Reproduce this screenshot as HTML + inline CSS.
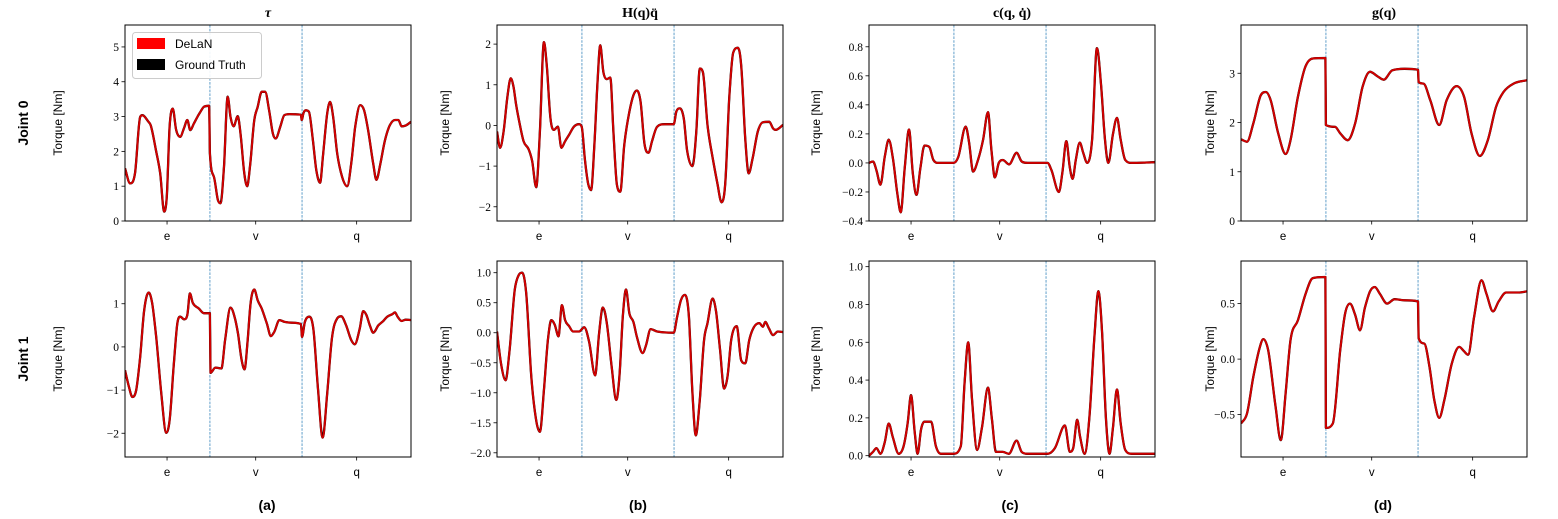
<!DOCTYPE html>
<html><head><meta charset="utf-8"><style>
body{margin:0;background:#fff;}
svg{display:block;}
text{font-family:"Liberation Serif",serif;}
.sans{font-family:"Liberation Sans","DejaVu Sans",sans-serif;}
</style></head><body>
<svg id="fig" width="1558" height="519" viewBox="0 0 1558 519" xmlns="http://www.w3.org/2000/svg"></svg>
<script>
// ---- data (x as fraction of trajectory, y in Nm) ----
const xTickLabels = ["e","v","q"];
const xTickPos = [0.147, 0.457, 0.81];
const dividers = [0.297, 0.619];

const aTopX=[0,.018,.035,.053,.061,.082,.09,.108,.123,.137,.146,.156,.167,.179,.193,.206,.218,.228,.241,.253,.264,.276,.294,.297,.311,.325,.334,.346,.359,.369,.380,.394,.404,.417,.427,.438,.452,.464,.478,.490,.504,.517,.527,.543,.557,.575,.610,.615,.618,.624,.632,.643,.657,.669,.682,.692,.707,.717,.727,.742,.759,.777,.791,.805,.822,.836,.850,.868,.879,.893,.909,.926,.944,.956,.967,.981,1];
const aTopY=[1.51,1.08,1.37,2.99,3.04,2.85,2.75,2.04,1.37,0.27,0.70,2.71,3.23,2.61,2.42,2.66,2.90,2.61,2.80,2.99,3.14,3.28,3.31,1.94,1.27,0.60,0.51,1.56,3.57,2.99,2.72,3.01,2.51,1.37,1.00,1.65,2.90,3.28,3.71,3.71,3.18,2.51,2.37,2.71,3.04,3.07,3.06,3.05,2.90,3.10,3.18,3.14,2.32,1.46,1.10,1.85,3.09,3.42,3.04,1.94,1.27,1.00,1.65,2.71,3.33,3.18,2.61,1.65,1.18,1.65,2.32,2.75,2.90,2.90,2.72,2.74,2.85];

const bTopX=[0,.011,.023,.037,.048,.058,.067,.079,.093,.111,.123,.137,.150,.164,.174,.187,.199,.213,.225,.238,.252,.269,.287,.296,.308,.319,.329,.340,.352,.361,.372,.384,.396,.407,.419,.431,.445,.463,.477,.489,.502,.516,.530,.542,.560,.586,.618,.627,.639,.653,.665,.683,.697,.709,.720,.736,.754,.771,.785,.798,.812,.826,.842,.854,.868,.880,.894,.912,.930,.952,.965,.974,1];
const bTopY=[-0.15,-0.55,-0.15,0.74,1.16,0.94,0.50,0.05,-0.39,-0.59,-0.88,-1.52,-0.15,2.05,1.47,0.17,-0.11,-0.03,-0.55,-0.39,-0.23,-0.03,0.03,-0.03,-0.88,-1.44,-1.59,-0.55,1.14,1.97,1.31,1.14,1.18,-0.15,-1.44,-1.63,-0.47,0.34,0.74,0.86,0.58,-0.47,-0.67,-0.39,-0.03,0.03,0.03,0.34,0.42,0.17,-0.63,-1.00,-0.15,1.40,1.31,0.01,-0.79,-1.44,-1.89,-1.44,0.66,1.79,1.91,1.47,-0.31,-1.18,-0.80,-0.15,0.08,0.09,-0.07,-0.11,0.01];

const cTopX=[0,.014,.026,.040,.055,.069,.083,.099,.111,.125,.140,.153,.166,.180,.194,.211,.225,.243,.295,.312,.338,.350,.364,.381,.399,.416,.428,.440,.454,.468,.490,.516,.534,.555,.624,.638,.664,.676,.690,.702,.712,.723,.737,.749,.763,.780,.797,.811,.825,.837,.853,.867,.880,.896,.919,1];
const cTopY=[0,0.01,-0.05,-0.15,0.04,0.16,0.04,-0.21,-0.34,-0.03,0.23,-0.07,-0.22,-0.03,0.12,0.11,0.02,0,0,0.04,0.25,0.14,-0.06,0.02,0.16,0.35,0.09,-0.10,0,0.02,-0.01,0.07,0.01,0,0,-0.05,-0.20,-0.07,0.15,-0.03,-0.11,0.02,0.14,0.07,0,0.16,0.79,0.55,0.16,0,0.20,0.31,0.16,0.02,0,0.005];

const dTopX=[0,.021,.043,.069,.087,.104,.130,.156,.173,.199,.225,.251,.295,.297,.329,.347,.373,.399,.425,.451,.477,.499,.529,.572,.619,.621,.638,.662,.693,.719,.754,.780,.806,.835,.863,.892,.918,.953,1];
const dTopY=[1.66,1.61,1.98,2.55,2.62,2.45,1.78,1.36,1.64,2.52,3.13,3.30,3.31,1.95,1.91,1.78,1.64,1.98,2.72,3.03,2.94,2.87,3.06,3.09,3.07,2.82,2.79,2.45,1.95,2.45,2.74,2.52,1.78,1.32,1.64,2.32,2.62,2.79,2.86];

const aBotX=[0,.014,.026,.039,.053,.067,.083,.095,.109,.127,.144,.156,.170,.183,.193,.207,.218,.227,.237,.258,.276,.297,.299,.316,.337,.350,.369,.383,.395,.408,.418,.429,.439,.452,.464,.478,.496,.510,.522,.540,.558,.584,.615,.619,.629,.645,.659,.675,.691,.707,.724,.742,.756,.773,.791,.803,.821,.833,.844,.856,.868,.886,.903,.917,.935,.944,.953,.967,.981,1];
const aBotY=[-0.54,-0.93,-1.16,-1.00,-0.23,0.85,1.26,1.01,0.23,-1.08,-1.99,-1.70,-0.46,0.54,0.70,0.64,0.74,1.24,1.02,0.89,0.78,0.78,-0.60,-0.48,-0.50,0.16,0.91,0.70,0.31,-0.31,-0.52,0.16,1.01,1.33,1.08,0.89,0.54,0.25,0.35,0.62,0.58,0.56,0.53,0.23,0.58,0.70,0.39,-1.00,-2.10,-1.08,0.23,0.66,0.71,0.50,0.16,0.06,0.43,0.83,0.74,0.50,0.33,0.50,0.60,0.70,0.76,0.80,0.70,0.60,0.63,0.62];

const bBotX=[0,.014,.030,.044,.062,.076,.088,.102,.120,.137,.150,.164,.178,.190,.202,.215,.227,.238,.252,.266,.287,.305,.322,.343,.357,.370,.384,.401,.417,.428,.440,.451,.463,.477,.489,.509,.521,.537,.560,.618,.630,.643,.657,.671,.683,.695,.709,.724,.736,.754,.766,.780,.794,.806,.819,.838,.854,.868,.882,.898,.917,.930,.938,.951,.965,.982,1];
const bBotY=[0.02,-0.51,-0.79,-0.29,0.71,0.96,1.00,0.66,-0.73,-1.46,-1.65,-0.96,-0.12,0.21,0.13,-0.06,0.46,0.21,0.11,0.02,0.02,0.09,-0.15,-0.71,-0.01,0.42,0.16,-0.57,-1.12,-0.73,0.27,0.72,0.32,0.18,-0.07,-0.34,-0.21,0.06,0.02,0,0.27,0.54,0.63,0.27,-0.96,-1.71,-1.12,-0.12,0.16,0.57,0.35,-0.29,-0.93,-0.73,-0.12,0.11,-0.46,-0.51,-0.12,0.09,0.16,0.10,0.18,0.07,-0.04,0.02,0.01];

const cBotX=[0,.014,.026,.040,.055,.069,.083,.104,.121,.135,.147,.160,.170,.182,.194,.217,.234,.251,.295,.321,.334,.347,.360,.378,.395,.416,.430,.444,.468,.489,.516,.534,.555,.624,.650,.685,.702,.714,.728,.738,.754,.771,.789,.802,.815,.828,.841,.853,.867,.880,.896,.919,1];
const cBotY=[0,0.02,0.04,0.01,0.07,0.17,0.10,0.01,0.05,0.17,0.32,0.12,0.01,0.14,0.18,0.18,0.05,0.01,0.01,0.05,0.38,0.60,0.30,0.03,0.15,0.36,0.19,0.02,0.02,0.01,0.08,0.02,0.01,0.01,0.04,0.16,0.02,0.04,0.19,0.10,0.01,0.21,0.65,0.87,0.65,0.21,0.01,0.15,0.35,0.17,0.03,0.01,0.01];

const dBotX=[0,.021,.043,.066,.078,.095,.121,.139,.156,.173,.199,.225,.251,.295,.297,.321,.347,.364,.381,.399,.416,.433,.451,.468,.485,.511,.537,.572,.619,.621,.641,.659,.676,.693,.711,.737,.763,.780,.794,.815,.841,.858,.881,.901,.927,.970,1];
const dBotY=[-0.58,-0.49,-0.16,0.11,0.18,0.08,-0.43,-0.73,-0.31,0.17,0.35,0.58,0.73,0.74,-0.62,-0.58,0.08,0.41,0.50,0.40,0.26,0.46,0.61,0.65,0.59,0.50,0.54,0.53,0.52,0.19,0.14,-0.07,-0.37,-0.53,-0.37,-0.04,0.11,0.07,0.04,0.38,0.71,0.59,0.43,0.52,0.60,0.60,0.61];

const aTopTicks=[0,1,2,3,4,5], aTopLabels=["0","1","2","3","4","5"];
const bTopTicks=[-2,-1,0,1,2], bTopLabels=["−2","−1","0","1","2"];
const cTopTicks=[-0.4,-0.2,0,0.2,0.4,0.6,0.8], cTopLabels=["−0.4","−0.2","0.0","0.2","0.4","0.6","0.8"];
const dTopTicks=[0,1,2,3], dTopLabels=["0","1","2","3"];
const aBotTicks=[-2,-1,0,1], aBotLabels=["−2","−1","0","1"];
const bBotTicks=[-2,-1.5,-1,-0.5,0,0.5,1], bBotLabels=["−2.0","−1.5","−1.0","−0.5","0.0","0.5","1.0"];
const cBotTicks=[0,0.2,0.4,0.6,0.8,1.0], cBotLabels=["0.0","0.2","0.4","0.6","0.8","1.0"];
const dBotTicks=[-0.5,0,0.5], dBotLabels=["−0.5","0.0","0.5"];

const svg=document.getElementById('fig');
const NS='http://www.w3.org/2000/svg';
function mk(tag,attrs,parent){const e=document.createElementNS(NS,tag);for(const k in attrs)e.setAttribute(k,attrs[k]);(parent||svg).appendChild(e);return e;}

// monotone cubic (Fritsch-Carlson) path through screen points
function monoPath(px,py){
  const n=px.length, d=[], m=new Array(n);
  for(let i=0;i<n-1;i++){const dx=px[i+1]-px[i]; d.push(dx>0.01?(py[i+1]-py[i])/dx:0);}
  m[0]=d[0]; m[n-1]=d[n-2];
  for(let i=1;i<n-1;i++){ m[i]=(d[i-1]*d[i]<=0)?0:(d[i-1]+d[i])/2; }
  for(let i=0;i<n-1;i++){
    if(d[i]===0){m[i]=0;m[i+1]=0;continue;}
    const a=m[i]/d[i], b=m[i+1]/d[i], s=a*a+b*b;
    if(s>9){const t=3/Math.sqrt(s); m[i]=t*a*d[i]; m[i+1]=t*b*d[i];}
  }
  let s='M'+px[0].toFixed(1)+','+py[0].toFixed(1);
  for(let i=0;i<n-1;i++){
    const dx=px[i+1]-px[i];
    if(dx<=0.6){ s+=' L'+px[i+1].toFixed(1)+','+py[i+1].toFixed(1); continue; }
    const h=dx/3;
    s+=' C'+(px[i]+h).toFixed(1)+','+(py[i]+m[i]*h).toFixed(1)+' '+(px[i+1]-h).toFixed(1)+','+(py[i+1]-m[i+1]*h).toFixed(1)+' '+px[i+1].toFixed(1)+','+py[i+1].toFixed(1);
  }
  return s;
}

const colX=[125,497,869,1241], rowY=[25,261], W=286, H=196;
const panels=[
 {c:0,r:0,xs:aTopX,ys:aTopY,min:0,max:5.63,t:aTopTicks,l:aTopLabels,name:'tau-joint0'},
 {c:1,r:0,xs:bTopX,ys:bTopY,min:-2.35,max:2.47,t:bTopTicks,l:bTopLabels,name:'inertial-joint0'},
 {c:2,r:0,xs:cTopX,ys:cTopY,min:-0.4,max:0.95,t:cTopTicks,l:cTopLabels,name:'coriolis-joint0'},
 {c:3,r:0,xs:dTopX,ys:dTopY,min:0,max:3.98,t:dTopTicks,l:dTopLabels,name:'gravity-joint0'},
 {c:0,r:1,xs:aBotX,ys:aBotY,min:-2.55,max:1.99,t:aBotTicks,l:aBotLabels,name:'tau-joint1'},
 {c:1,r:1,xs:bBotX,ys:bBotY,min:-2.07,max:1.195,t:bBotTicks,l:bBotLabels,name:'inertial-joint1'},
 {c:2,r:1,xs:cBotX,ys:cBotY,min:-0.007,max:1.03,t:cBotTicks,l:cBotLabels,name:'coriolis-joint1'},
 {c:3,r:1,xs:dBotX,ys:dBotY,min:-0.882,max:0.884,t:dBotTicks,l:dBotLabels,name:'gravity-joint1'}
];
const ylabX=[58,445,816,1210];

panels.forEach(p=>{
  const x0=colX[p.c], y0=rowY[p.r];
  const g=mk('g',{});
  
  
  const sx=f=>x0+f*W;
  const sy=v=>y0+H-(v-p.min)/(p.max-p.min)*H;
  dividers.forEach(d=>{
    const ln=mk('line',{x1:sx(d),x2:sx(d),y1:y0,y2:y0+H,stroke:'#1f77b4','stroke-width':0.7,'stroke-dasharray':'2.6,1.2'},g);
    
    
  });
  const px=p.xs.map(sx), py=p.ys.map(sy);
  const dpath=monoPath(px,py);
  const clip='clip'+p.c+p.r;
  const cp=mk('clipPath',{id:clip},g); mk('rect',{x:x0,y:y0,width:W,height:H},cp);
  const gt=mk('path',{d:dpath,fill:'none',stroke:'#000','stroke-width':2.3,'clip-path':'url(#'+clip+')','stroke-linejoin':'round'},g);
  
  
  const pr=mk('path',{d:dpath,fill:'none',stroke:'#d10000','stroke-width':2,'clip-path':'url(#'+clip+')','stroke-linejoin':'round'},g);
  
  
  const fr=mk('rect',{x:x0,y:y0,width:W,height:H,fill:'none',stroke:'#000','stroke-width':1},g);
  
  
  p.t.forEach((v,i)=>{
    const y=sy(v);
    mk('line',{x1:x0-3.5,x2:x0,y1:y,y2:y,stroke:'#000','stroke-width':0.8},g);
    const t=mk('text',{x:x0-6,y:y+4,'text-anchor':'end','font-size':11.5},g);
    t.textContent=p.l[i];
    
    
  });
  xTickPos.forEach((f,i)=>{
    const x=sx(f);
    mk('line',{x1:x,x2:x,y1:y0+H,y2:y0+H+3.5,stroke:'#000','stroke-width':0.8},g);
    const t=mk('text',{x:x,y:y0+H+19,'text-anchor':'middle','font-size':11.5,class:'sans'},g);
    t.textContent=xTickLabels[i];
    
    
  });
  const yl=mk('text',{x:0,y:0,'text-anchor':'middle','font-size':12,class:'sans',transform:'translate('+(ylabX[p.c]+4)+','+(y0+H/2)+') rotate(-90)'},g);
  yl.textContent='Torque [Nm]';
  
  
});
</script>
<div style="position:absolute;left:0;top:0;width:1558px;height:519px;pointer-events:none;">
<svg width="1558" height="519" xmlns="http://www.w3.org/2000/svg">
  <text x="268" y="17" text-anchor="middle" font-size="14" font-weight="bold" font-style="italic">τ</text>
  <text x="640" y="17" text-anchor="middle" font-size="14" font-weight="bold">H(q)q̈</text>
  <text x="1012" y="17" text-anchor="middle" font-size="14" font-weight="bold">c(q, q̇)</text>
  <text x="1384" y="17" text-anchor="middle" font-size="14" font-weight="bold">g(q)</text>
  <text transform="translate(28,123) rotate(-90)" text-anchor="middle" font-size="14" font-weight="bold" style="font-family:'Liberation Sans',sans-serif">Joint 0</text>
  <text transform="translate(28,359) rotate(-90)" text-anchor="middle" font-size="14" font-weight="bold" style="font-family:'Liberation Sans',sans-serif">Joint 1</text>
  <g>
    <rect x="132.5" y="32.5" width="129" height="46" rx="3" fill="#fff" fill-opacity="0.9" stroke="#ccc"/>
    <rect x="137" y="38" width="28" height="11" fill="#ff0000"/>
    <text x="175" y="48" font-size="12" style="font-family:'Liberation Sans',sans-serif">DeLaN</text>
    <rect x="137" y="59" width="28" height="11" fill="#000"/>
    <text x="175" y="69" font-size="12" style="font-family:'Liberation Sans',sans-serif">Ground Truth</text>
  </g>
  <text x="267" y="510" text-anchor="middle" font-size="14" font-weight="bold" style="font-family:'Liberation Sans',sans-serif">(a)</text>
  <text x="638" y="510" text-anchor="middle" font-size="14" font-weight="bold" style="font-family:'Liberation Sans',sans-serif">(b)</text>
  <text x="1010" y="510" text-anchor="middle" font-size="14" font-weight="bold" style="font-family:'Liberation Sans',sans-serif">(c)</text>
  <text x="1383" y="510" text-anchor="middle" font-size="14" font-weight="bold" style="font-family:'Liberation Sans',sans-serif">(d)</text>
</svg>
</div>
</body></html>
